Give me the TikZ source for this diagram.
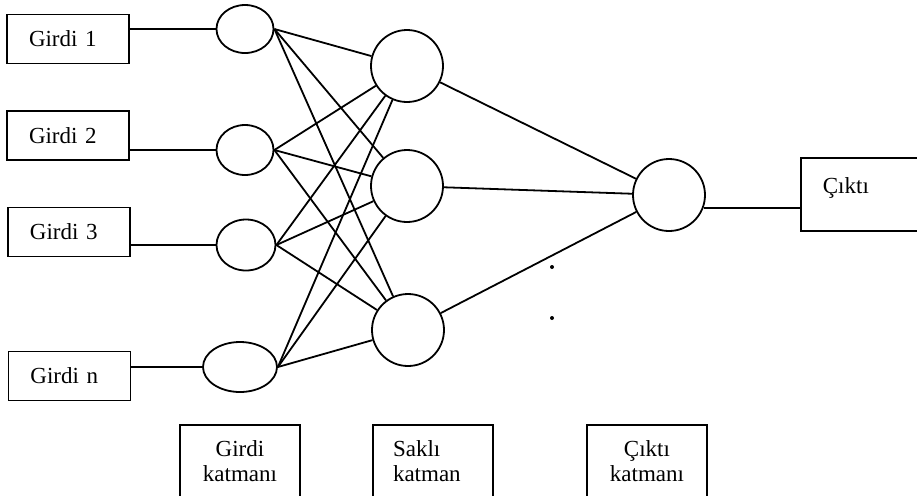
\documentclass[tikz,border=0pt]{standalone}
\usepackage{fontspec}
\setmainfont{Liberation Serif}
\usetikzlibrary{shapes.geometric}
\usetikzlibrary{positioning}

\begin{document}
\begin{tikzpicture}[x=0.5pt,y=-0.5pt,line width=0.9pt,
  every node/.style={font=\fontsize{11.5}{12.5}\selectfont},
  girdi/.style={draw,minimum height=24.5pt,text width=39pt,inner xsep=11pt,inner ysep=0pt,align=left},
  katman/.style={draw,anchor=north,text width=40pt,inner xsep=10pt,inner ysep=8pt,text depth=30pt},
  dot/.style={circle,fill,inner sep=0pt,minimum size=2pt}]
  \useasboundingbox (0,0) rectangle (917,495);
  \clip (0,0) rectangle (917,495);
  % girdiler
  \node (g1) at (68,39)[girdi]{Girdi 1};
  \node (g2) at (68,135.5)[girdi]{Girdi 2};
  \node (g3) at (69,232)[girdi]{Girdi 3};
  \node (gn) at (69.5,376)[girdi]{Girdi n};
  % girdi katmani
  \node (e1) at (245,29)[draw,ellipse,minimum width=28.5pt,minimum height=24pt,inner sep=0pt]{};
  \node (e2) at (245,150)[draw,ellipse,minimum width=28.5pt,minimum height=25pt,inner sep=0pt]{};
  \node (e3) at (246,245)[draw,ellipse,minimum width=29.5pt,minimum height=25.5pt,inner sep=0pt]{};
  \node (en) at (240,367)[draw,ellipse,minimum width=37pt,minimum height=25pt,inner sep=0pt]{};
  % sakli katman
  \node (h1) at (407,66)[draw,circle,minimum size=36pt,inner sep=0pt]{};
  \node (h2) at (407,186)[draw,circle,minimum size=36pt,inner sep=0pt]{};
  \node (h3) at (408,330)[draw,circle,minimum size=36pt,inner sep=0pt]{};
  % cikti
  \node (o) at (669,195)[draw,circle,minimum size=36pt,inner sep=0pt]{};
  \node (c) at (800,157)[draw,anchor=north west,minimum width=70pt,minimum height=36.5pt,
    text width=49pt,inner xsep=11pt,align=left,text depth=9pt]{Çıktı};
  \node (p1) at (552,267)[dot]{};
  \node (p2) at (552,318)[dot]{};
  % alt kutular
  \node (k1) at (240,424)[katman,align=center]{Girdi\\katmanı};
  \node (k2) at (433,424)[katman,align=left]{Saklı\\katman};
  \node (k3) at (647,424)[katman,align=center]{Çıktı\\katmanı};

  \draw(g1.east |- e1.west)--(e1.west);
  \draw(g2.east |- e2.west)--(e2.west);
  \draw(g3.east |- e3.west)--(e3.west);
  \draw(gn.east |- en.west)--(en.west);
  \foreach \i in {e1,e2,e3,en}
    \foreach \j in {h1,h2,h3}
      \draw(\i.east)--(\j);
  \draw(h1)--(o);
  \draw(h2)--(o);
  \draw(h3)--(o);
  \draw(o.-20)--(o.-20 -| c.west);
\end{tikzpicture}
\end{document}
